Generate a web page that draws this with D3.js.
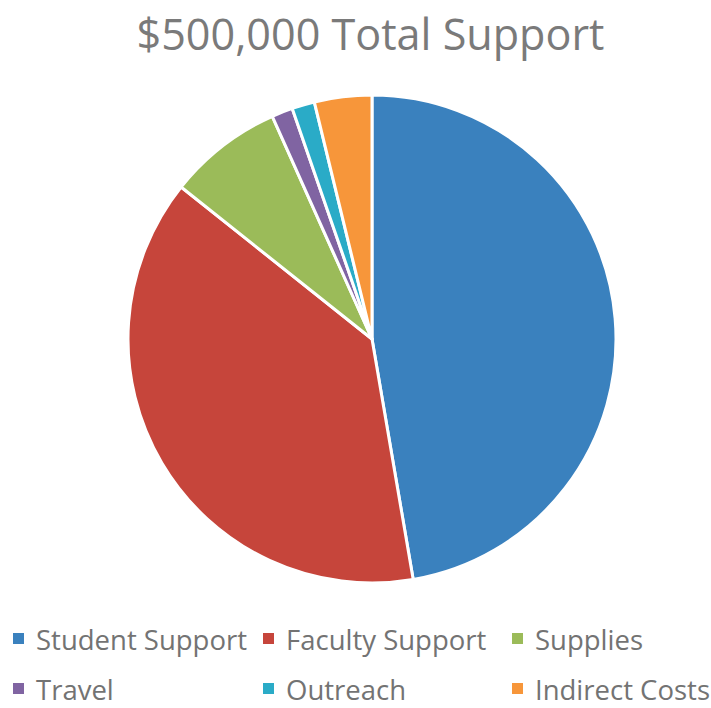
<!DOCTYPE html>
<html><head><meta charset="utf-8">
<script src="https://cdn.jsdelivr.net/npm/d3@7"></script>
<style>html,body{margin:0;padding:0;background:#fff;}svg{display:block;}</style>
</head><body>
<svg id="c" width="711" height="708"></svg>
<script>
const title = "$500,000 Total Support";
const categories = ["Student Support","Faculty Support","Supplies","Travel","Outreach","Indirect Costs"];
const values = [236500, 192000, 38000, 7000, 7500, 19000];
const colors = ["#3A81BE","#C6453B","#9BBB59","#8064A2","#2AABC7","#F7963A"];

const svg = d3.select("#c");
const W = 711;
const cx = 372, cy = 339, R = 244;

// title
const t = svg.append("text").attr("x", W/2 + 15).attr("y", 50)
  .attr("text-anchor","middle").attr("fill","#7a7a7a")
  .style("font-family","'Open Sans', sans-serif").style("font-size","40px").text(title);
const tw = t.node().getComputedTextLength();
t.style("font-size", (40*468/tw).toFixed(2)+"px");

const pie = d3.pie().sort(null).value(d=>d)(values);
const arc = d3.arc().innerRadius(0).outerRadius(R);
const g = svg.append("g").attr("transform",`translate(${cx},${cy})`);
g.selectAll("path").data(pie).join("path")
  .attr("d", arc).attr("fill",(d,i)=>colors[i])
  .attr("stroke","#fff").attr("stroke-width",3).attr("stroke-linejoin","round");

// legend
const colX = [13, 263, 512];
const rowY = [650, 700];
const leg = svg.append("g");
const items = leg.selectAll("g").data(categories).join("g")
  .attr("transform",(d,i)=>`translate(${colX[i%3]},${rowY[Math.floor(i/3)]})`);
items.append("rect").attr("x",0).attr("y",-17).attr("width",11).attr("height",11)
  .attr("fill",(d,i)=>colors[i]);
const lt = items.append("text").attr("x",23).attr("y",0).attr("fill","#737373")
  .style("font-family","'Open Sans', sans-serif").style("font-size","24px").text(d=>d);
const sw = lt.nodes()[0].getComputedTextLength();
lt.style("font-size",(24*211/sw).toFixed(2)+"px");
</script>
</body></html>
